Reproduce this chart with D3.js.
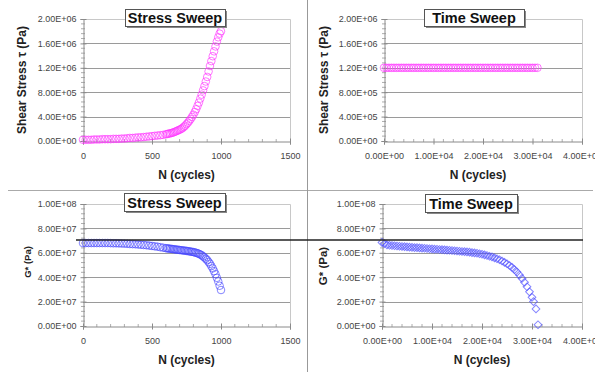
<!DOCTYPE html>
<html>
<head>
<meta charset="utf-8">
<script src="https://cdn.jsdelivr.net/npm/d3@7"></script>
<style>
  html, body { margin: 0; padding: 0; background: #fff; }
  svg { display: block; font-family: Arial, "Liberation Sans", sans-serif; }
</style>
</head>
<body>
<svg id="chart" width="595" height="372"></svg>
<script>
// ---------------- DATA ----------------
// Stress sweep: cycles
const stressSweepN = [0,20,40,60,80,100,120,140,160,180,200,220,240,260,280,300,320,340,360,380,400,420,440,460,480,500,520,540,560,580,
  600,610,620,630,640,650,660,670,680,690,700,710,720,730,740,750,760,770,780,790,800,810,820,830,840,850,860,870,880,890,900,910,920,930,940,950,960,970,980,990,1000];
// Stress sweep: shear stress (Pa)
const stressSweepTau = [2.0e4,2.0e4,2.0e4,2.0e4,2.5e4,2.5e4,2.5e4,3.0e4,3.0e4,3.0e4,3.0e4,3.5e4,3.5e4,3.5e4,4.0e4,4.0e4,4.5e4,5.0e4,5.0e4,5.5e4,6.0e4,6.0e4,6.5e4,7.0e4,7.5e4,8.0e4,8.5e4,9.0e4,9.5e4,1.0e5,
  1.10e5,1.15e5,1.20e5,1.25e5,1.30e5,1.37e5,1.45e5,1.55e5,1.65e5,1.75e5,1.85e5,1.97e5,2.10e5,2.30e5,2.50e5,2.75e5,3.00e5,3.30e5,3.60e5,3.95e5,4.30e5,4.75e5,5.20e5,5.75e5,6.30e5,6.95e5,7.60e5,8.30e5,9.00e5,9.75e5,1.05e6,1.14e6,1.23e6,1.31e6,1.39e6,1.47e6,1.55e6,1.63e6,1.70e6,1.76e6,1.80e6];
// Stress sweep: G* (Pa)
const stressSweepG = [6.80e7,6.80e7,6.80e7,6.80e7,6.80e7,6.80e7,6.80e7,6.80e7,6.80e7,6.80e7,6.79e7,6.78e7,6.78e7,6.77e7,6.76e7,6.75e7,6.74e7,6.72e7,6.71e7,6.70e7,6.68e7,6.66e7,6.64e7,6.62e7,6.59e7,6.56e7,6.53e7,6.50e7,6.46e7,6.42e7,
  6.380e7,6.365e7,6.350e7,6.335e7,6.320e7,6.305e7,6.290e7,6.275e7,6.260e7,6.245e7,6.230e7,6.215e7,6.200e7,6.185e7,6.170e7,6.155e7,6.140e7,6.120e7,6.100e7,6.080e7,6.060e7,6.030e7,6.000e7,5.960e7,5.920e7,5.860e7,5.800e7,5.710e7,5.620e7,5.510e7,5.400e7,5.250e7,5.100e7,4.910e7,4.720e7,4.490e7,4.250e7,3.950e7,3.650e7,3.300e7,2.950e7];

// Time sweep: shear stress vs cycles (constant amplitude)
const timeSweepN = [0,500,1000,1500,2000,2500,3000,3500,4000,4500,5000,5500,6000,6500,7000,7500,8000,8500,9000,9500,10000,10500,11000,11500,12000,12500,13000,13500,14000,14500,15000,15500,16000,16500,17000,17500,18000,18500,19000,19500,20000,20500,21000,21500,22000,22500,23000,23500,24000,24500,25000,25500,26000,26500,27000,27500,28000,28500,29000,29500,30000,30500,31000];
const timeSweepTau = [1.2e6,1.2e6,1.2e6,1.2e6,1.2e6,1.2e6,1.2e6,1.2e6,1.2e6,1.2e6,1.2e6,1.2e6,1.2e6,1.2e6,1.2e6,1.2e6,1.2e6,1.2e6,1.2e6,1.2e6,1.2e6,1.2e6,1.2e6,1.2e6,1.2e6,1.2e6,1.2e6,1.2e6,1.2e6,1.2e6,1.2e6,1.2e6,1.2e6,1.2e6,1.2e6,1.2e6,1.2e6,1.2e6,1.2e6,1.2e6,1.2e6,1.2e6,1.2e6,1.2e6,1.2e6,1.2e6,1.2e6,1.2e6,1.2e6,1.2e6,1.2e6,1.2e6,1.2e6,1.2e6,1.2e6,1.2e6,1.2e6,1.2e6,1.2e6,1.2e6,1.2e6,1.2e6,1.2e6];

// Time sweep: G* vs cycles
const timeSweepGN = [0,500,1000,1500,2000,2500,3000,3500,4000,4500,5000,5500,6000,6500,7000,7500,8000,8500,9000,9500,10000,10500,11000,11500,12000,12500,13000,13500,14000,14500,15000,15500,16000,16500,17000,17500,18000,18500,19000,19500,20000,20500,21000,21500,22000,22500,23000,23500,24000,24500,25000,25500,26000,26500,27000,27500,28000,28500,29000,29500,30000,30300,30800,31200];
const timeSweepG = [6.85e7,6.75e7,6.65e7,6.62e7,6.60e7,6.58e7,6.56e7,6.54e7,6.52e7,6.50e7,6.48e7,6.46e7,6.45e7,6.43e7,6.42e7,6.40e7,6.38e7,6.37e7,6.35e7,6.33e7,6.32e7,6.30e7,6.29e7,6.27e7,6.26e7,6.24e7,6.22e7,6.21e7,6.19e7,6.17e7,6.15e7,6.13e7,6.11e7,6.09e7,6.07e7,6.05e7,6.02e7,5.99e7,5.96e7,5.92e7,5.88e7,5.83e7,5.78e7,5.72e7,5.66e7,5.59e7,5.51e7,5.43e7,5.33e7,5.22e7,5.10e7,4.96e7,4.80e7,4.62e7,4.42e7,4.18e7,3.90e7,3.58e7,3.22e7,2.80e7,2.35e7,2.00e7,1.40e7,0.10e7];

// Reference G* level (black horizontal line)
const gStarReference = 7.05e7;

// Ticks
const cyclesTicks = [0, 500, 1000, 1500];
const cyclesTickLabels = ["0", "500", "1000", "1500"];
const timeTicks = [0, 1e4, 2e4, 3e4, 4e4];
const timeTickLabels = ["0.00E+00", "1.00E+04", "2.00E+04", "3.00E+04", "4.00E+04"];
const tauTicks = [0, 4e5, 8e5, 1.2e6, 1.6e6, 2e6];
const tauTickLabels = ["0.00E+00", "4.00E+05", "8.00E+05", "1.20E+06", "1.60E+06", "2.00E+06"];
const gTicks = [0, 2e7, 4e7, 6e7, 8e7, 1e8];
const gTickLabels = ["0.00E+00", "2.00E+07", "4.00E+07", "6.00E+07", "8.00E+07", "1.00E+08"];

const panelTitles = ["Stress Sweep", "Time Sweep", "Stress Sweep", "Time Sweep"];
const xTitle = "N (cycles)";
const tauTitle = "Shear Stress \u03C4 (Pa)";
const gTitle = "G* (Pa)";

// ---------------- DRAW ----------------
const svg = d3.select("#chart");
const FONT = 'Arial, "Liberation Sans", sans-serif';

// panel separators
svg.append("line").attr("x1", 8).attr("x2", 593).attr("y1", 190.5).attr("y2", 190.5)
  .attr("stroke", "#aaa").attr("stroke-width", 1);
svg.append("line").attr("x1", 307.5).attr("x2", 307.5).attr("y1", 0).attr("y2", 372)
  .attr("stroke", "#999").attr("stroke-width", 1);

function panel(cfg) {
  const x = d3.scaleLinear().domain(cfg.xDomain).range(cfg.xRange);
  const y = d3.scaleLinear().domain(cfg.yDomain).range(cfg.yRange);
  const g = svg.append("g");
  const [x0, x1] = cfg.xRange, [y0, y1] = cfg.yRange;

  // frame top/right (light)
  g.append("path")
    .attr("d", `M${x0},${y1 + 0.5}H${x1 + 0.5}V${y0}`)
    .attr("fill", "none").attr("stroke", "#c8c8c8").attr("stroke-width", 1);

  // gridlines
  g.selectAll("line.grid").data(cfg.yTicks.slice(1, -1)).join("line")
    .attr("class", "grid")
    .attr("x1", x0).attr("x2", x1)
    .attr("y1", d => Math.round(y(d)) + 0.5).attr("y2", d => Math.round(y(d)) + 0.5)
    .attr("stroke", "#9a9a9a").attr("stroke-width", 1.2);

  // minor ticks
  const yMinor = [];
  for (let i = 0; i < cfg.yTicks.length - 1; i++) {
    const a = cfg.yTicks[i], b = cfg.yTicks[i + 1];
    for (let k = 1; k < 5; k++) yMinor.push(a + (b - a) * k / 5);
  }
  g.selectAll("line.ymin").data(yMinor).join("line")
    .attr("x1", x0 - 2).attr("x2", x0 + 2)
    .attr("y1", d => y(d)).attr("y2", d => y(d))
    .attr("stroke", "#999").attr("stroke-width", 0.8);
  const xMinor = [];
  for (let i = 0; i < cfg.xTicks.length - 1; i++) {
    const a = cfg.xTicks[i], b = cfg.xTicks[i + 1];
    for (let k = 1; k < 5; k++) xMinor.push(a + (b - a) * k / 5);
  }
  g.selectAll("line.xmin").data(xMinor).join("line")
    .attr("x1", d => x(d)).attr("x2", d => x(d))
    .attr("y1", y0 - 2).attr("y2", y0 + 1)
    .attr("stroke", "#999").attr("stroke-width", 0.8);

  // axes
  const ya = g.append("g").attr("transform", `translate(${x0 + 0.5},0)`)
    .call(d3.axisLeft(y).tickValues(cfg.yTicks)
      .tickFormat((d, i) => cfg.yLabels[i]).tickSize(3).tickPadding(4));
  const xa = g.append("g").attr("transform", `translate(0,${y0 + 0.5})`)
    .call(d3.axisBottom(x).tickValues(cfg.xTicks)
      .tickFormat((d, i) => cfg.xLabels[i]).tickSize(3).tickPadding(8));
  [ya, xa].forEach(a => {
    a.select(".domain").attr("stroke", "#8a8a8a");
    a.selectAll(".tick line").attr("stroke", "#8a8a8a");
    a.selectAll("text").attr("font-family", FONT).attr("font-size", 9).attr("fill", "#444");
  });
  ya.selectAll(".tick line").attr("x2", -3).attr("x1", 3);
  xa.selectAll(".tick line").attr("y1", -3).attr("y2", 3);

  // data markers
  const pts = cfg.xs.map((v, i) => [v, cfg.ys[i]]);
  if (cfg.diamond) {
    g.selectAll("path.pt").data(pts).join("path")
      .attr("d", d3.symbol().type(d3.symbolSquare).size(30))
      .attr("transform", d => `translate(${x(d[0])},${y(d[1])}) rotate(45)`)
      .attr("fill", "none").attr("stroke", cfg.color).attr("stroke-width", 1)
      .attr("stroke-opacity", 0.65);
  } else {
    g.selectAll("circle.pt").data(pts).join("circle")
      .attr("cx", d => x(d[0])).attr("cy", d => y(d[1])).attr("r", 3.8)
      .attr("fill", "none").attr("stroke", cfg.color).attr("stroke-width", 1)
      .attr("stroke-opacity", 0.65);
  }

  // axis titles
  g.append("text").attr("x", (x0 + x1) / 2 + cfg.xtDx).attr("y", y0 + 38)
    .attr("text-anchor", "middle").attr("font-family", FONT).attr("font-weight", "bold")
    .attr("font-size", 12).attr("fill", "#222").text(xTitle);
  g.append("text")
    .attr("transform", `translate(${cfg.ytX},${cfg.ytY}) rotate(-90)`)
    .attr("text-anchor", "middle").attr("dominant-baseline", "central")
    .attr("font-family", FONT).attr("font-weight", "bold")
    .attr("font-size", cfg.ytSize).attr("fill", "#222").text(cfg.yTitle);

  // title box
  const b = cfg.box;
  g.append("rect").attr("x", b[0] + 2).attr("y", b[1] + 2).attr("width", b[2]).attr("height", b[3])
    .attr("fill", "#888");
  g.append("rect").attr("x", b[0] + 0.5).attr("y", b[1] + 0.5).attr("width", b[2]).attr("height", b[3])
    .attr("fill", "#fff").attr("stroke", "#555").attr("stroke-width", 1);
  g.append("text").attr("x", b[0] + b[2] / 2).attr("y", b[1] + b[3] / 2 + 5.5)
    .attr("text-anchor", "middle").attr("font-family", FONT).attr("font-weight", "bold")
    .attr("font-size", 14.5).attr("fill", "#111").text(cfg.title);

  return { x, y };
}

const magenta = "#ff30ff", blue = "#4545ff";

panel({ xDomain: [0, 1500], xRange: [83, 290], yDomain: [0, 2e6], yRange: [141, 19],
  xTicks: cyclesTicks, xLabels: cyclesTickLabels, yTicks: tauTicks, yLabels: tauTickLabels,
  xs: stressSweepN, ys: stressSweepTau, color: magenta,
  yTitle: tauTitle, ytX: 22, ytY: 80, ytSize: 12, xtDx: 0,
  box: [125, 9, 100, 17], title: panelTitles[0] });

panel({ xDomain: [0, 4e4], xRange: [384, 582], yDomain: [0, 2e6], yRange: [141, 19],
  xTicks: timeTicks, xLabels: timeTickLabels, yTicks: tauTicks, yLabels: tauTickLabels,
  xs: timeSweepN, ys: timeSweepTau, color: magenta,
  yTitle: tauTitle, ytX: 324, ytY: 80, ytSize: 12, xtDx: -5,
  box: [424, 9, 100, 17], title: panelTitles[1] });

const p3 = panel({ xDomain: [0, 1500], xRange: [83, 290], yDomain: [0, 1e8], yRange: [326, 204],
  xTicks: cyclesTicks, xLabels: cyclesTickLabels, yTicks: gTicks, yLabels: gTickLabels,
  xs: stressSweepN, ys: stressSweepG, color: blue,
  yTitle: gTitle, ytX: 27, ytY: 262, ytSize: 9.5, xtDx: 0,
  box: [124, 193, 101, 18], title: panelTitles[2] });

panel({ xDomain: [0, 4e4], xRange: [382, 582], yDomain: [0, 1e8], yRange: [326, 204],
  xTicks: timeTicks, xLabels: timeTickLabels, yTicks: gTicks, yLabels: gTickLabels,
  xs: timeSweepGN, ys: timeSweepG, color: blue, diamond: true,
  yTitle: gTitle, ytX: 323, ytY: 266, ytSize: 11.5, xtDx: 0,
  box: [425, 194, 92, 18], title: panelTitles[3] });

// reference line across both lower panels
svg.append("line").attr("x1", 76).attr("x2", 583)
  .attr("y1", p3.y(gStarReference)).attr("y2", p3.y(gStarReference))
  .attr("stroke", "#222").attr("stroke-width", 1.5);
</script>
</body>
</html>
